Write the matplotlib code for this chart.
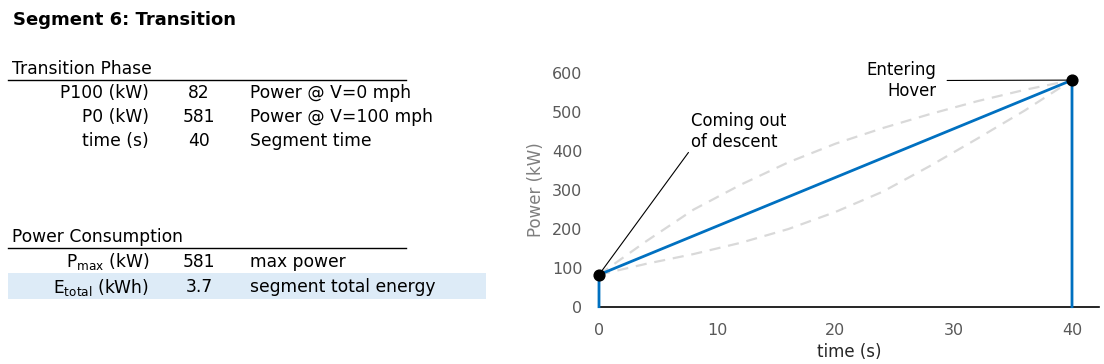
import matplotlib
matplotlib.use("Agg")
import matplotlib.pyplot as plt
from matplotlib.patches import Rectangle
from matplotlib.lines import Line2D

# ---------------- data ----------------
title = "Segment 6: Transition"
phase_header = "Transition Phase"
phase_labels = ["P100 (kW)", "P0 (kW)", "time (s)"]
phase_values = ["82", "581", "40"]
phase_desc = ["Power @ V=0 mph", "Power @ V=100 mph", "Segment time"]

power_header = "Power Consumption"
power_labels = [r"P$_{\mathregular{max}}$ (kW)", r"E$_{\mathregular{total}}$ (kWh)"]
power_values = ["581", "3.7"]
power_desc = ["max power", "segment total energy"]

# main profile (blue): vertical rise, linear ramp, vertical drop
profile_t = [0, 0, 40, 40]
profile_p = [0, 82, 581, 0]

# grey dashed alternative profiles
alt_t = [0, 4, 8, 12, 16, 20, 24, 28, 32, 36, 40]
alt_upper = [82, 168, 249, 313, 370, 418, 458, 494, 527, 556, 581]
alt_lower = [82, 110, 135, 164, 199, 243, 295, 361, 431, 503, 581]

marker_t = [0, 40]
marker_p = [82, 581]

x_ticks = [0, 10, 20, 30, 40]
y_ticks = [0, 100, 200, 300, 400, 500, 600]

# ---------------- figure ----------------
W, H = 1104, 364
fig = plt.figure(figsize=(W / 100, H / 100), dpi=100)
plt.rcParams['font.family'] = ['DejaVu Sans']


def fx(px):
    return px / W


def fy(py):
    return 1 - py / H


FS = 12.3
fig.text(fx(13), fy(20), title, fontsize=13, fontweight='bold', va='center', ha='left')

# Transition phase table
fig.text(fx(12), fy(69), phase_header, fontsize=FS, va='center', ha='left')
fig.add_artist(Line2D([fx(8), fx(406)], [fy(80), fy(80)], color='black', lw=1))
row_y = [93, 117, 141]
for y, lab, val, desc in zip(row_y, phase_labels, phase_values, phase_desc):
    fig.text(fx(149), fy(y), lab, fontsize=FS, va='center', ha='right')
    fig.text(fx(199), fy(y), val, fontsize=FS, va='center', ha='center')
    fig.text(fx(250), fy(y), desc, fontsize=FS, va='center', ha='left')

# Power consumption table
fig.add_artist(Rectangle((fx(8), fy(299)), fx(486) - fx(8), fy(273) - fy(299),
                         facecolor='#DDEBF7', edgecolor='none'))
fig.text(fx(12), fy(237), power_header, fontsize=FS, va='center', ha='left')
fig.add_artist(Line2D([fx(8), fx(406)], [fy(248), fy(248)], color='black', lw=1))
row_y2 = [262, 287]
for y, lab, val, desc in zip(row_y2, power_labels, power_values, power_desc):
    fig.text(fx(149), fy(y), lab, fontsize=FS, va='center', ha='right')
    fig.text(fx(199), fy(y), val, fontsize=FS, va='center', ha='center')
    fig.text(fx(250), fy(y), desc, fontsize=FS, va='center', ha='left')

# ---------------- chart ----------------
ax_left, ax_right = 599, 1099
ax_bottom, ax_top = 306.7, 72.7
ax = fig.add_axes([fx(ax_left), fy(ax_bottom), fx(ax_right) - fx(ax_left),
                   (ax_bottom - ax_top) / H])
xmax = 40 + (ax_right - 1072) / ((1072 - 599) / 40)
ax.set_xlim(0, xmax)
ax.set_ylim(0, 600)

ax.plot(alt_t, alt_upper, color='#D9D9D9', lw=1.6, ls=(0, (5, 3.5)), zorder=2)
ax.plot(alt_t, alt_lower, color='#D9D9D9', lw=1.6, ls=(0, (5, 3.5)), zorder=2)
ax.plot(profile_t, profile_p, color='#0070C0', lw=2, zorder=3, clip_on=False,
        solid_joinstyle='miter')
ax.scatter(marker_t, marker_p, s=60, color='black', zorder=5, clip_on=False)

for s in ['top', 'right', 'left']:
    ax.spines[s].set_visible(False)
ax.spines['bottom'].set_color('black')
ax.spines['bottom'].set_linewidth(1.2)
ax.set_xticks(x_ticks)
ax.set_yticks(y_ticks)
ax.tick_params(axis='both', length=0, labelsize=11.5, labelcolor='#595959')
ax.tick_params(axis='x', pad=12)
ax.tick_params(axis='y', pad=12)
ax.set_xlabel("time (s)", fontsize=12, color='#262626', labelpad=3)
ax.set_ylabel("Power (kW)", fontsize=12, color='#7F7F7F', labelpad=5)

ax.annotate("Coming out\nof descent", xy=(marker_t[0], marker_p[0]),
            xytext=(7.8, 450), textcoords='data', fontsize=11.9,
            ha='left', va='center', linespacing=1.2,
            arrowprops=dict(arrowstyle='-', color='black', lw=0.8,
                            shrinkA=0, shrinkB=0, relpos=(0, 0.05)),
            annotation_clip=False)
ax.annotate("Entering\nHover", xy=(marker_t[1], marker_p[1]),
            xytext=(28.5, 580), textcoords='data', fontsize=11.9,
            ha='right', va='center', linespacing=1.2,
            arrowprops=dict(arrowstyle='-', color='black', lw=0.8,
                            shrinkA=6, shrinkB=0, relpos=(1, 0.5)),
            annotation_clip=False)

fig.savefig("out.png", dpi=100)
